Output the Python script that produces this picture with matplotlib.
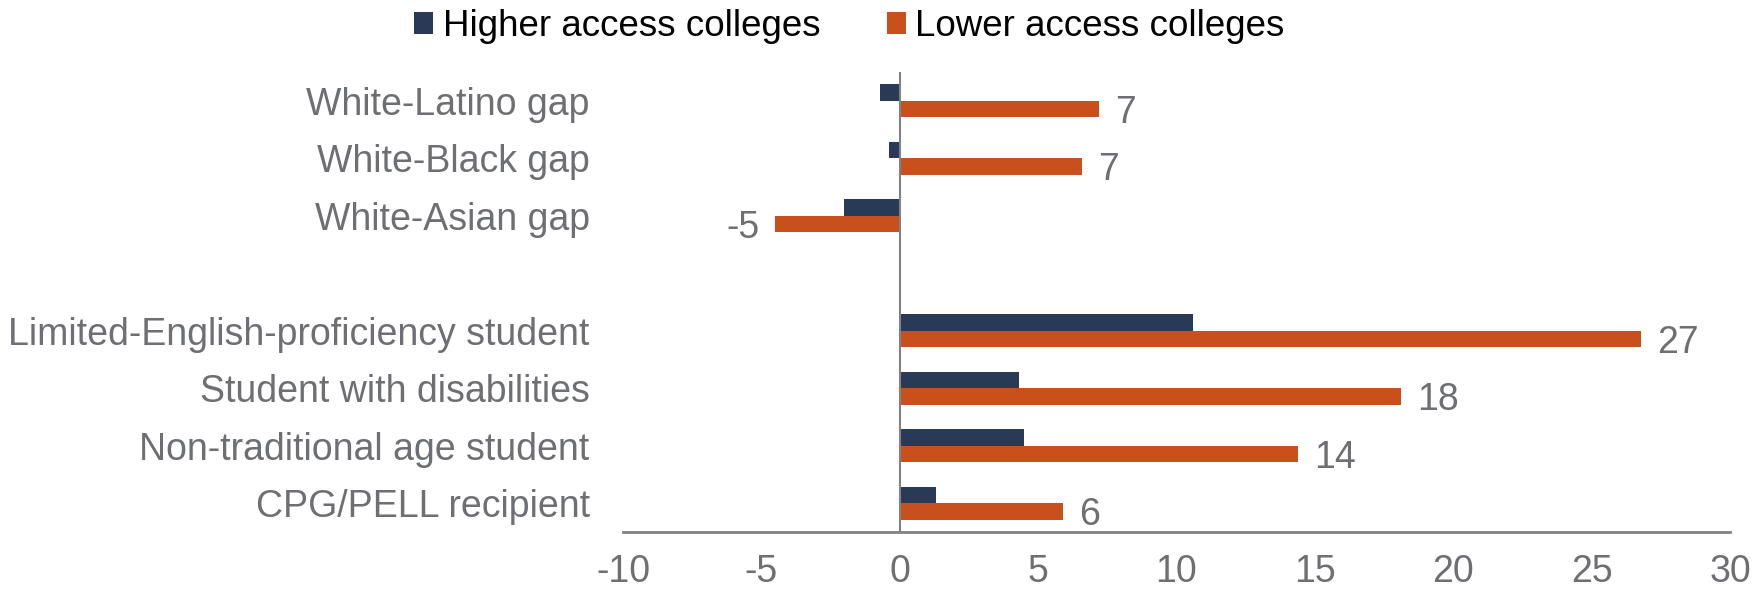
import matplotlib
matplotlib.use("Agg")
import matplotlib.pyplot as plt
from matplotlib.patches import Patch
import numpy as np

# data
categories = [
    "White-Latino gap",
    "White-Black gap",
    "White-Asian gap",
    "Limited-English-proficiency student",
    "Student with disabilities",
    "Non-traditional age student",
    "CPG/PELL recipient",
]
higher_access = [-0.7, -0.4, -2.0, 10.6, 4.3, 4.5, 1.3]
lower_access = [7.2, 6.6, -4.5, 26.8, 18.1, 14.4, 5.9]
lower_labels = ["7", "7", "-5", "27", "18", "14", "6"]
x_ticks = [-10, -5, 0, 5, 10, 15, 20, 25, 30]

navy = "#293a56"
orange = "#c9501c"
text_gray = "#6d6f72"
line_gray = "#808285"

plt.rcParams["font.family"] = ["Liberation Sans", "DejaVu Sans"]

fig = plt.figure(figsize=(17.54, 5.91), dpi=100)
ax = fig.add_axes([623 / 1754, 1 - 532 / 591, 1107 / 1754, 460 / 591])

# leave an empty row between the gap rows and the student rows
y = np.array([0, 1, 2, 4, 5, 6, 7])
h = 0.283

ax.barh(y - h / 2, higher_access, height=h, color=navy, zorder=2)
ax.barh(y + h / 2, lower_access, height=h, color=orange, zorder=2)

for yi, val, lab in zip(y, lower_access, lower_labels):
    off = 11.5 if val >= 0 else -11
    ax.annotate(
        lab,
        xy=(val, yi + h / 2),
        xytext=(off, 0),
        textcoords="offset points",
        ha="left" if val >= 0 else "right",
        va="center_baseline",
        fontsize=27,
        color=text_gray,
    )

ax.set_xlim(-10, 30)
ax.set_ylim(7.5, -0.5)
ax.set_xticks(x_ticks)
ax.set_xticklabels([str(t) for t in x_ticks])
ax.set_yticks(y)
ax.set_yticklabels(categories)
ax.tick_params(axis="x", length=0, pad=16, labelsize=27, labelcolor=text_gray)
ax.tick_params(axis="y", length=0, pad=24, labelsize=27, labelcolor=text_gray)

for side in ["top", "right", "left"]:
    ax.spines[side].set_visible(False)
ax.spines["bottom"].set_color(line_gray)
ax.spines["bottom"].set_linewidth(2)
ax.axvline(0, color=line_gray, lw=1.5, zorder=3)

handles = [
    Patch(facecolor=navy, label="Higher access colleges"),
    Patch(facecolor=orange, label="Lower access colleges"),
]
fig.legend(
    handles=handles,
    loc="center left",
    bbox_to_anchor=(414 / 1754, 1 - 26.5 / 591),
    ncol=2,
    frameon=False,
    fontsize=26.5,
    handlelength=0.52,
    handleheight=0.52,
    handletextpad=0.26,
    columnspacing=1.8,
    borderpad=0,
    borderaxespad=0,
)

fig.savefig("out.png", dpi=100)
